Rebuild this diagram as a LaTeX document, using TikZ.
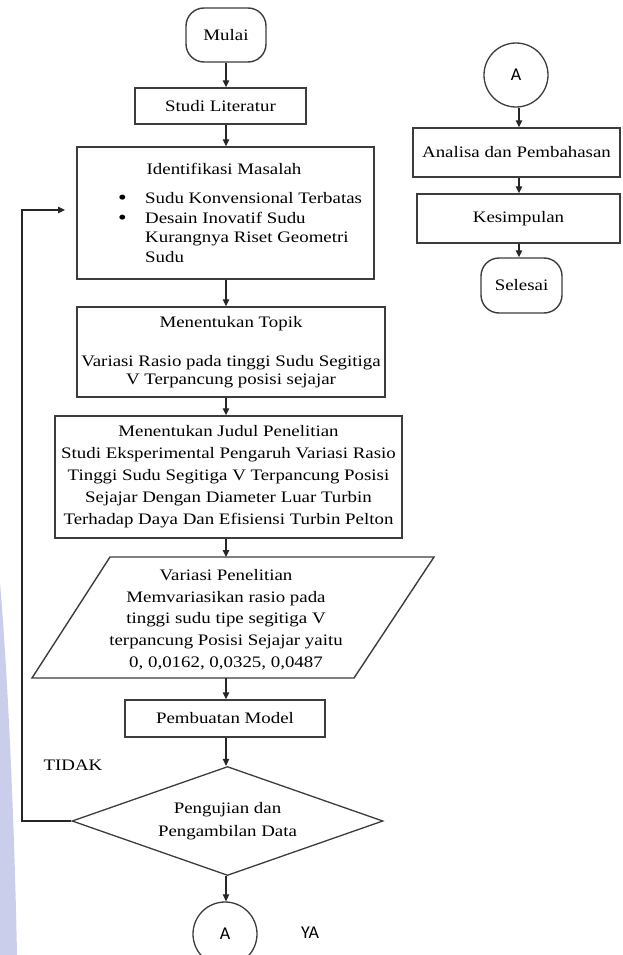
\documentclass[tikz,border=0pt]{standalone}
\usepackage{fontspec}
\setmainfont[FakeStretch=1.18]{Liberation Serif}
\newfontfamily\sansA{Carlito}
\usetikzlibrary{arrows.meta,shapes.geometric}
\definecolor{stripecol}{RGB}{202,206,234}
\definecolor{linecol}{RGB}{60,60,60}
\newcommand{\bigbul}{\smash{\raisebox{-1.2pt}{\scalebox{1.3}{\textbullet}}}}
\begin{document}
\begin{tikzpicture}[x=1pt,y=-1pt,
  box/.style={draw=linecol,line width=1.4pt,rectangle,inner sep=0pt,align=center,font=\fontsize{16}{20}\selectfont},
  term/.style={box,rounded corners=18pt},
  conn/.style={draw=linecol,line width=1.3pt,circle,minimum size=64pt,inner sep=0pt,font=\sansA\fontsize{18}{20}\selectfont},
  arr/.style={draw=black!85,line width=1.2pt,-{Triangle[length=7pt,width=6.5pt]}},
  txt/.style={inner sep=0pt,align=center,font=\fontsize{16}{20}\selectfont}
]
\useasboundingbox (0,0) rectangle (622,955);
\fill[stripecol] (0,583) .. controls (6,650) and (14,800) .. (17,955) -- (0,955) -- cycle;

\coordinate (mid) at (226,0);
\coordinate (midR) at (519,0);

% left column
\node[term,minimum width=80pt,minimum height=54pt] (mulai) at (226,35) {Mulai};
\node[box,minimum width=171pt,minimum height=36pt] (studi) at (220.5,106) {Studi Literatur};
\node[box,minimum width=297pt,minimum height=132pt] (ident) at (225.5,213) {};
\node[txt] (identT) at (224,169) {Identifikasi Masalah};
\node[txt,anchor=west,align=left,font=\fontsize{16}{19.5}\selectfont] (identL) at (118,229)
  {\begin{tabular}{@{}p{27pt}@{}l@{}}
   \bigbul & Sudu Konvensional Terbatas\\
   \bigbul & Desain Inovatif Sudu\\
    & Kurangnya Riset Geometri\\
    & Sudu
   \end{tabular}};
\node[box,minimum width=308pt,minimum height=90pt,font=\fontsize{16}{18}\selectfont] (topik) at (231,352)
  {Menentukan Topik\\[21pt]Variasi Rasio pada tinggi Sudu Segitiga\\V Terpancung posisi sejajar};
\node[box,minimum width=347pt,minimum height=122pt,font=\fontsize{16}{22}\selectfont] (judul) at (228.5,477)
  {Menentukan Judul Penelitian\\Studi Eksperimental Pengaruh Variasi Rasio\\Tinggi Sudu Segitiga V Terpancung Posisi\\Sejajar Dengan Diameter Luar Turbin\\Terhadap Daya Dan Efisiensi Turbin Pelton};
\draw[draw=linecol,line width=1.4pt] (110,557) -- (434,557) -- (354,678) -- (32,678) -- cycle;
\coordinate (varT) at (226,557);
\coordinate (varB) at (226,678);
\node[txt,font=\fontsize{16}{21.75}\selectfont] (var) at (226,619.5)
  {Variasi Penelitian\\Memvariasikan rasio pada\\tinggi sudu tipe segitiga V\\terpancung Posisi Sejajar yaitu\\0, 0,0162, 0,0325, 0,0487};
\node[box,minimum width=200pt,minimum height=37pt] (pemb) at (225,718.5) {Pembuatan Model};
\node[draw=linecol,line width=1.3pt,diamond,aspect=2.85,inner sep=0pt,minimum width=311pt,minimum height=109pt,
  align=center,font=\fontsize{16}{23}\selectfont] (uji) at (227.5,821) {Pengujian dan\\Pengambilan Data};
\node[conn] (A2) at (225,934) {A};
\node[txt,font=\fontsize{16}{20}\selectfont] (tidak) at (73,765) {TIDAK};
\node[inner sep=0pt,font=\sansA\fontsize{18}{20}\selectfont] (ya) at (310,933) {YA};

% right column
\node[conn] (A1) at (516,75) {A};
\node[box,minimum width=207pt,minimum height=49pt] (anal) at (516.5,152.5) {Analisa dan Pembahasan};
\node[box,minimum width=203pt,minimum height=49pt] (kes) at (518.5,218.5) {Kesimpulan};
\node[term,minimum width=81pt,minimum height=55pt] (sel) at (521.5,285.5) {Selesai};

% connectors
\draw[arr] (mulai.south -| mid) -- (studi.north -| mid);
\draw[arr] (studi.south -| mid) -- (ident.north -| mid);
\draw[arr] (ident.south -| mid) -- (topik.north -| mid);
\draw[arr] (topik.south -| mid) -- (judul.north -| mid);
\draw[arr] (judul.south -| mid) -- (varT);
\draw[arr] (varB) -- (pemb.north -| mid);
\draw[arr] (pemb.south -| mid) -- (uji.north -| mid);
\draw[arr] (uji.south -| mid) -- (A2.north -| mid);
\coordinate (loopX) at (22,210);
\coordinate (loopEnd) at (65,210);
\draw[arr] (uji.west) -| (loopX) -- (loopEnd);

\draw[arr] (A1.south -| midR) -- (anal.north -| midR);
\draw[arr] (anal.south -| midR) -- (kes.north -| midR);
\draw[arr] (kes.south -| midR) -- (sel.north -| midR);
\end{tikzpicture}
\end{document}
